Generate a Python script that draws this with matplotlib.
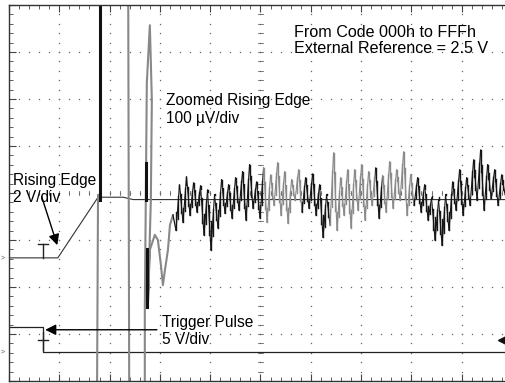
import numpy as np
import matplotlib.pyplot as plt

plt.rcParams['font.family'] = ['Liberation Sans', 'DejaVu Sans']

# scope screen in divisions: 10 x 8, centre at (5, 0)
# Rising edge channel (2 V/div)
edge_x = [0.0, 0.97, 1.77, 2.27, 2.47, 10.3]
edge_y = [-1.38, -1.38, -0.09, -0.09, -0.14, -0.14]

# Trigger pulse channel (5 V/div)
trig_x = [0.0, 0.68, 0.68, 10.3]
trig_y = [-2.85, -2.85, -3.38, -3.38]

# Zoomed rising edge (100 uV/div) - the clipped transition part
zoom_x = [1.75, 1.77, 1.81, 1.81, 2.37, 2.39, 2.70, 2.70, 2.74, 2.80, 2.84, 2.82,
          2.76, 2.80, 2.90, 2.96, 3.02, 3.06, 3.10, 3.16, 3.20, 3.26]
zoom_y = [-4.3, -0.04, -0.04, 4.3, 4.3, -4.3, -4.3, -2.49, 2.34, 3.57, 1.98, -0.15,
          -2.43, -1.21, -0.89, -1.00, -1.53, -1.96, -1.64, -1.21, -0.68, -0.47]

# Zoomed rising edge - settled noise, one sample every ~0.07 div from 3.32 div
noise_y = [-0.79, 0.17, -0.62, 0.34, -0.47, 0.21, -0.40, 0.15, -0.89, 0.06,
           -1.21, -0.04, -0.74, 0.28, -0.43, 0.17, -0.53, 0.32, -0.36, 0.45,
           -0.57, 0.60, -0.32, 0.23, -0.53, 0.53, -0.62, 0.38, -0.26, 0.64,
           -0.47, 0.45, -0.64, 0.28, -0.15, 0.49, -0.40, 0.32, -0.32, 0.40,
           -0.47, 0.17, -0.94, -0.04, -0.68, 0.85, -0.79, 0.32, -0.47, 0.49,
           -0.74, 0.49, -0.36, 0.60, -0.57, 0.45, -0.26, 0.53, -0.53, 0.36,
           -0.40, 0.66, -0.32, 0.49, -0.15, 0.87, -0.47, 0.38, -0.26, 0.32,
           -0.40, 0.17, -0.57, -0.11, -1.00, -0.15, -1.11, -0.04, -0.79, 0.23,
           -0.36, 0.49, -0.47, 0.32, -0.26, 0.70, -0.15, 0.91, -0.36, 0.60,
           -0.11, 0.49, -0.26, 0.38, -0.04]
noise_start, noise_step = 3.32, 0.0696
gray_spans = [(5.03, 5.79), (6.38, 7.22), (7.38, 8.01)]

# black (overdrawn) pieces of the zoomed trace: x, y0, y1
black_bits = [(1.81, 4.3, -0.15), (2.75, -1.2, -2.43), (2.73, 0.64, -0.15)]

fig = plt.figure(figsize=(5.06, 3.83), dpi=100)
ax = fig.add_axes([9 / 506, 2 / 383, 503 / 506, 376 / 383])
ax.set_xlim(0, 10)
ax.set_ylim(-4, 4)

# graticule: dotted lines made of small dots
for gx in range(1, 10):
    yy = np.arange(-4, 4.01, 0.2)
    ax.plot(np.full_like(yy, gx), yy, ls='none', marker='s', ms=0.9, color='#666666', mec='none')
for gy in range(-3, 4):
    xx = np.arange(0, 10.01, 0.2)
    ax.plot(xx, np.full_like(xx, gy), ls='none', marker='s', ms=0.9, color='#666666', mec='none')
# centre lines minor ticks
for t in np.arange(-4, 4.01, 0.2):
    ax.plot([4.95, 5.05], [t, t], color='#666666', lw=0.6)
for t in np.arange(0, 10.01, 0.2):
    ax.plot([t, t], [-0.05, 0.05], color='#666666', lw=0.6)

ax.set_xticks(np.arange(0, 10.01, 1))
ax.set_yticks(np.arange(-4, 4.01, 1))
ax.set_xticks(np.arange(0, 10.01, 0.2), minor=True)
ax.set_yticks(np.arange(-4, 4.01, 0.2), minor=True)
ax.tick_params(which='both', direction='in', top=True, right=True,
               labelbottom=False, labelleft=False, color='#444444')
ax.tick_params(which='major', length=5, width=0.8)
ax.tick_params(which='minor', length=3, width=0.6)
for s in ax.spines.values():
    s.set_color('#333333')
    s.set_linewidth(1.0)

# traces
ax.plot(edge_x, edge_y, color='#333333', lw=0.8)
ax.plot(trig_x, trig_y, color='#222222', lw=0.9)
ax.plot(zoom_x, zoom_y, color='#888888', lw=1.5)
for bx, b0, b1 in black_bits:
    ax.plot([bx, bx], [b0, b1], color='#111111', lw=2.2)

# noisy part: thin zigzag plus peak-detect style bars
nx = noise_start + noise_step * np.arange(len(noise_y))
ny = np.array(noise_y)
ax.plot([zoom_x[-1], nx[0]], [zoom_y[-1], ny[0]], color='#151515', lw=0.9)
gray = np.zeros(len(nx), dtype=bool)
for a, b in gray_spans:
    gray |= (nx >= a) & (nx <= b)
for i in range(len(nx) - 1):
    c = '#8a8a8a' if gray[i] else '#151515'
    ax.plot(nx[i:i + 2], ny[i:i + 2], color=c, lw=0.8)
    xm = 0.5 * (nx[i] + nx[i + 1])
    lo, hi = sorted([ny[i], ny[i + 1]])
    ax.plot([xm, xm], [lo + 0.25 * (hi - lo), hi - 0.25 * (hi - lo)], color=c, lw=1.0)
    ax.plot([nx[i], nx[i]], [ny[i], 0.5 * ny[i]], color=c, lw=1.0)

# trigger markers
ax.plot([0.58, 0.78], [-1.08, -1.08], color='#222222', lw=1.0)
ax.plot([0.68, 0.68], [-1.08, -1.38], color='#222222', lw=1.0)
ax.plot([0.58, 0.78], [-3.13, -3.13], color='#222222', lw=1.0)
ax.plot([0.68, 0.68], [-2.95, -3.35], color='#222222', lw=1.0)
ax.plot([9.83], [-3.13], marker='<', ms=7, color='#111111', clip_on=False)

# annotations
ax.text(5.66, 3.25, 'From Code 000h to FFFh\nExternal Reference = 2.5 V',
        fontsize=11.6, va='center', ha='left', linespacing=1.1)
ax.text(3.12, 1.78, 'Zoomed Rising Edge\n100 \u00b5V/div',
        fontsize=11.2, va='center', ha='left', linespacing=1.2)
ax.text(0.08, 0.08, 'Rising Edge\n2 V/div',
        fontsize=11.2, va='center', ha='left', linespacing=1.15)
ax.text(3.05, -2.93, 'Trigger Pulse\n5 V/div',
        fontsize=11.2, va='center', ha='left', linespacing=1.15)
ax.annotate('', xy=(0.96, -1.11), xytext=(0.65, -0.08),
            arrowprops=dict(arrowstyle='-|>', color='black', lw=1.0,
                            mutation_scale=16, shrinkA=0, shrinkB=0))
ax.annotate('', xy=(0.72, -2.91), xytext=(2.94, -2.91),
            arrowprops=dict(arrowstyle='-|>', color='black', lw=1.0,
                            mutation_scale=16, shrinkA=0, shrinkB=0))

# channel markers at the left edge
for my in [-1.38, -3.38]:
    fig.text(3 / 506, 1 - (193 - my * 47) / 383, '>', fontsize=5, color='#555555',
             ha='center', va='center')

fig.savefig('out.png', dpi=100)
